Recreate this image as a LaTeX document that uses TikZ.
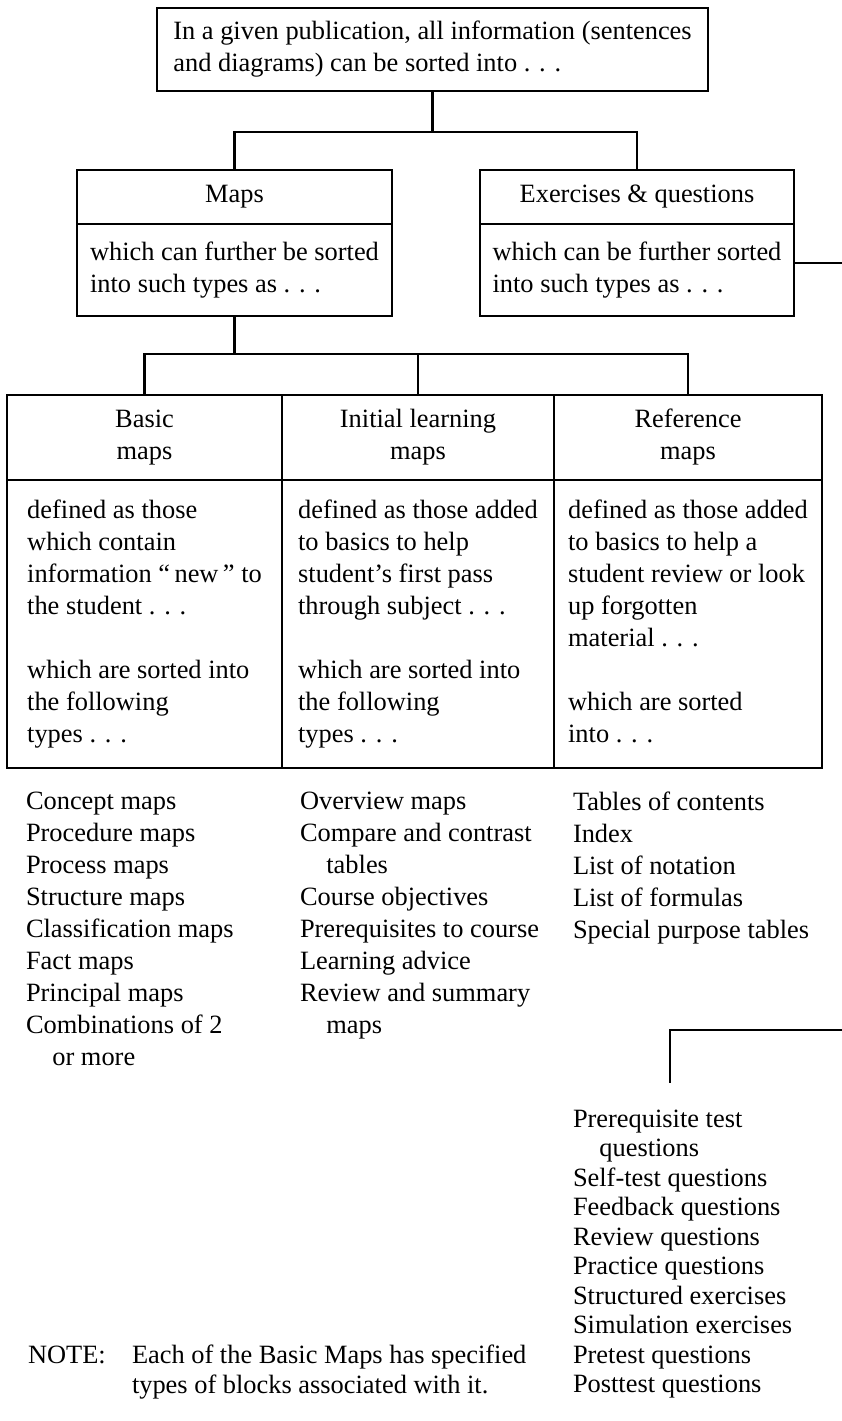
\documentclass[tikz,border=0pt]{standalone}
\usepackage{fontspec}
\setmainfont{Liberation Serif}
\usetikzlibrary{positioning}

\begin{document}
\begin{tikzpicture}[x=1pt,y=-1pt,line width=2.4pt,
                    font=\fontsize{26.4}{32}\selectfont]
  \tikzstyle{every node}=[inner sep=0pt,outer sep=0pt]
  \tikzstyle{headbox}=[draw,anchor=north west,align=center]
  \tikzstyle{bodybox}=[draw,anchor=north west,align=left]
  \tikzstyle{typelist}=[anchor=north west,align=left]
  \tikzstyle{tightlist}=[typelist,font=\fontsize{26.4}{29.5}\selectfont]

  \useasboundingbox (0,0) rectangle (842,1421);

  % top level
  \node[bodybox,minimum width=551pt,minimum height=83pt] (top) at (157,8)
    {In a given publication, all information (sentences\\and diagrams) can be sorted into . . .};

  \node[headbox,minimum width=315pt,minimum height=54pt] (mapshead) at (77,170) {Maps};
  \node[bodybox,minimum width=315pt,minimum height=92pt,below=0pt of mapshead] (mapsbody)
    {which can further be sorted\\into such types as . . .};
  \node[headbox,minimum width=314pt,minimum height=54pt] (exerhead) at (480,170) {Exercises \& questions};
  \node[bodybox,minimum width=314pt,minimum height=92pt,below=0pt of exerhead] (exerbody)
    {which can be further sorted\\into such types as . . .};

  % the three kinds of maps
  \node[headbox,minimum width=275pt,minimum height=85pt] (basichead) at (7,395) {Basic\\maps};
  \node[headbox,minimum width=272pt,minimum height=85pt,right=0pt of basichead] (inithead) {Initial learning\\maps};
  \node[headbox,minimum width=268pt,minimum height=85pt,right=0pt of inithead] (refhead) {Reference\\maps};
  \node[bodybox,minimum width=275pt,minimum height=288pt,below=0pt of basichead] (basicbody)
    {defined as those\\which contain\\information ``\,new\,'' to\\the student . . .\\[32pt]which are sorted into\\the following\\types . . .};
  \node[bodybox,minimum width=272pt,minimum height=288pt,below=0pt of inithead] (initbody)
    {defined as those added\\to basics to help\\student's first pass\\through subject . . .\\[32pt]which are sorted into\\the following\\types . . .};
  \node[bodybox,minimum width=268pt,minimum height=288pt,below=0pt of refhead] (refbody)
    {defined as those added\\to basics to help a\\student review or look\\up forgotten\\material . . .\\[32pt]which are sorted\\into . . .\vphantom{p}};

  % lists of types
  \node[typelist] (basiclist) at (26,792)
    {Concept maps\\Procedure maps\\Process maps\\Structure maps\\Classification maps\\Fact maps\\Principal maps\\Combinations of 2\\\hspace*{1em}or more};
  \node[typelist] (initlist) at (300,792)
    {Overview maps\\Compare and contrast\\\hspace*{1em}tables\\Course objectives\\Prerequisites to course\\Learning advice\\Review and summary\\\hspace*{1em}maps};
  \node[typelist] (reflist) at (573,792)
    {Tables of contents\\Index\\List of notation\\List of formulas\\Special purpose tables};
  \node[tightlist] (qlist) at (573,1110)
    {Prerequisite test\\\hspace*{1em}questions\\Self-test questions\\Feedback questions\\Review questions\\Practice questions\\Structured exercises\\Simulation exercises\\Pretest questions\\Posttest questions};

  \node[anchor=base west] (notelabel) at (28,1363) {NOTE:};
  \node[tightlist] (notetext) at (132,1345)
    {Each of the Basic Maps has specified\\types of blocks associated with it.};

  % connectors
  \coordinate (j1) at (431,132);
  \coordinate (j2) at (415,354);
  \coordinate (rimtop) at (842,263);
  \coordinate (rimlow) at (842,1030);
  \coordinate (qtop) at (670,1083);

  \draw (top.south) -- (top.south |- j1);
  \draw (mapshead.north) |- (j1) -| (exerhead.north);
  \draw (mapsbody.south) -- (mapsbody.south |- j2);
  \draw (basichead.north) |- (j2) -| (refhead.north);
  \draw (inithead.north) -- (inithead.north |- j2);
  \draw (exerbody.east |- rimtop) -- (rimtop);
  \draw (rimlow) -| (qtop);

\end{tikzpicture}
\end{document}
